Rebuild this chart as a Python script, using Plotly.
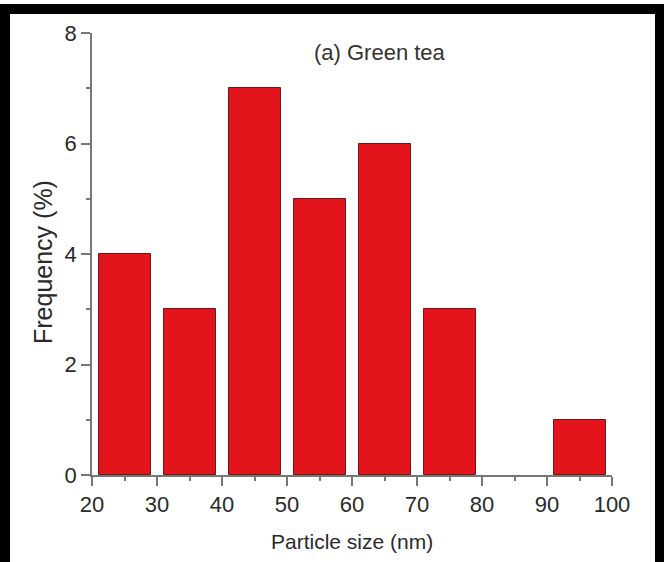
import plotly.graph_objects as go

# Data
bin_centers = [25, 35, 45, 55, 65, 75, 85, 95]
frequency = [4, 3, 7, 5, 6, 3, 0, 1]
x_ticks = [20, 30, 40, 50, 60, 70, 80, 90, 100]
x_minor = [25, 35, 45, 55, 65, 75, 85, 95]
y_ticks = [0, 2, 4, 6, 8]
y_minor = [1, 3, 5, 7]

W, H = 664, 562
L, R, T, B = 92, 52, 33, 87
pw, ph = W - L - R, H - T - B

def px(x):
    return (x - L) / pw

def py(y):
    return (H - B - y) / ph

fig = go.Figure()
fig.add_trace(go.Bar(
    x=bin_centers, y=frequency, width=8,
    marker=dict(color="#E3141B",
                line=dict(color="#6a1a1a", width=[1 if v > 0 else 0 for v in frequency])),
    showlegend=False,
))

font = "Liberation Sans, Arial, sans-serif"
axis_common = dict(
    showline=True, linecolor="#777", linewidth=1.5,
    ticks="outside", ticklen=9, tickwidth=1.5, tickcolor="#777",
    showgrid=False, zeroline=False,
    tickfont=dict(family=font, size=22, color="#2a2a2a"),
)
fig.update_xaxes(
    range=[20, 100], tickvals=x_ticks, **axis_common,
    minor=dict(ticks="outside", tickvals=x_minor, ticklen=4, tickcolor="#777", tickwidth=1.5),
)
fig.update_yaxes(
    range=[0, 8], tickvals=y_ticks, **axis_common,
    minor=dict(ticks="outside", tickvals=y_minor, ticklen=4, tickcolor="#777", tickwidth=1.5),
)

fig.add_annotation(
    text="(a) Green tea", xref="paper", yref="paper",
    x=px(380), y=py(53), xanchor="center", yanchor="middle", showarrow=False,
    font=dict(family=font, size=22, color="#333"),
)
fig.add_annotation(
    text="Particle size (nm)", xref="paper", yref="paper",
    x=px(352), y=py(541), xanchor="center", yanchor="middle", showarrow=False,
    font=dict(family=font, size=21, color="#2a2a2a"),
)
fig.add_annotation(
    text="Frequency (%)", xref="paper", yref="paper", textangle=-90,
    x=px(43), y=py(262), xanchor="center", yanchor="middle", showarrow=False,
    font=dict(family=font, size=25, color="#2a2a2a"),
)

# black frame
frame = [
    (0, 4, 664, 14),
    (0, 4, 10, 562),
    (655, 4, 664, 562),
]
for x0, y0, x1, y1 in frame:
    fig.add_shape(type="rect", xref="paper", yref="paper",
                  x0=px(x0), x1=px(x1), y0=py(y1), y1=py(y0),
                  fillcolor="black", line=dict(width=0), layer="above")

fig.update_layout(
    width=W, height=H,
    margin=dict(l=L, r=R, t=T, b=B),
    plot_bgcolor="white", paper_bgcolor="white",
    bargap=0,
)

fig.write_html("out.html")
